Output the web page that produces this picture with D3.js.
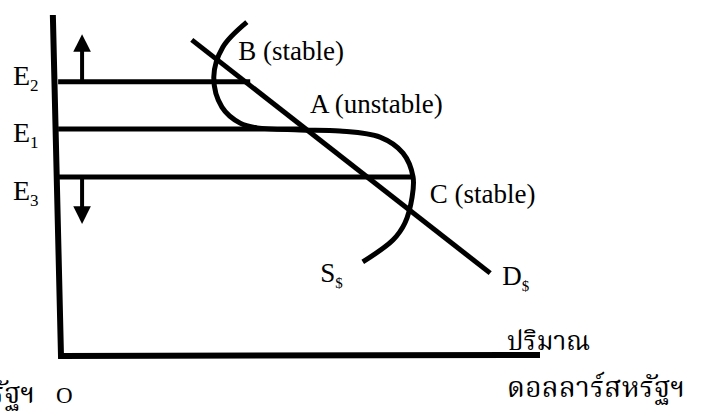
<!DOCTYPE html>
<html>
<head>
<meta charset="utf-8">
<script src="https://cdn.jsdelivr.net/npm/d3@7"></script>
<style>
  body { margin: 0; background: #fff; }
  text { font-family: "Liberation Serif", "DejaVu Serif", serif; fill: #000; }
  text.thai { font-family: "Noto Serif Thai", "Loma", "Noto Sans Thai", serif; }
</style>
</head>
<body>
<div id="container"></div>
<script>
/* CONSTANTS AND GLOBALS */
const width = 704;
const height = 418;

/* DATA (schematic units, 0-10 on both axes) */
// exchange rate levels
const levels = ["E2", "E1", "E3"];
const levelValues = [8.04, 6.66, 5.25];
const levelEnds = [3.95, 5.0, 7.35];

// demand for dollars, straight line
const demandX = [2.73, 8.96];
const demandY = [9.27, 2.43];

// supply of dollars, backward bending curve
const supplyX = [3.88, 3.38, 3.19, 3.36, 3.74, 4.09, 4.99, 5.82, 6.66, 7.14, 7.35, 7.33, 7.18, 6.93, 6.30];
const supplyY = [9.79, 9.06, 8.18, 7.30, 6.83, 6.69, 6.63, 6.60, 6.42, 5.95, 5.25, 4.66, 3.90, 3.40, 2.76];

// arrows: up from E2, down from E3
const arrowX = 0.44;
const arrowFrom = [8.04, 5.25];
const arrowTo = [9.47, 3.84];

// axis frame
const axisX = [-0.17, 0, 10];
const axisY = [10, 0, 0.03];

// point labels
const pointLabels = ["B (stable)", "A (unstable)", "C (stable)"];
const pointX = [3.70, 5.20, 7.70];
const pointY = [8.68, 7.13, 4.49];

/* SCALES */
const xScale = d3.scaleLinear().domain([0, 10]).range([61, 540]);
const yScale = d3.scaleLinear().domain([0, 10]).range([356, 15]);

/* HTML ELEMENTS */
const svg = d3.select("#container")
  .append("svg")
  .attr("width", width)
  .attr("height", height);

svg.append("defs").append("marker")
  .attr("id", "head")
  .attr("viewBox", "0 0 10 10")
  .attr("refX", 1)
  .attr("refY", 5)
  .attr("markerWidth", 4.4)
  .attr("markerHeight", 4.4)
  .attr("markerUnits", "strokeWidth")
  .attr("orient", "auto")
  .append("path")
  .attr("d", "M0,0 L10,5 L0,10 Z")
  .attr("fill", "#000");

const line = d3.line()
  .x(d => xScale(d[0]))
  .y(d => yScale(d[1]));

// axes
svg.append("path")
  .attr("d", line(axisX.map((x, i) => [x, axisY[i]])))
  .attr("fill", "none")
  .attr("stroke", "#000")
  .attr("stroke-width", 6);

// horizontal E lines
svg.selectAll(".level")
  .data(levelValues)
  .join("line")
  .attr("x1", xScale(-0.06))
  .attr("x2", (d, i) => xScale(levelEnds[i]))
  .attr("y1", d => yScale(d))
  .attr("y2", d => yScale(d))
  .attr("stroke", "#000")
  .attr("stroke-width", 5);

// arrows
svg.selectAll(".arrow")
  .data(arrowFrom)
  .join("line")
  .attr("x1", xScale(arrowX))
  .attr("x2", xScale(arrowX))
  .attr("y1", d => yScale(d))
  .attr("y2", (d, i) => {
    const dir = arrowTo[i] > d ? 1 : -1;
    return yScale(arrowTo[i]) + dir * 17;
  })
  .attr("stroke", "#000")
  .attr("stroke-width", 4)
  .attr("marker-end", "url(#head)");

// demand line
svg.append("path")
  .attr("d", line(demandX.map((x, i) => [x, demandY[i]])))
  .attr("fill", "none")
  .attr("stroke", "#000")
  .attr("stroke-width", 5);

// supply curve
svg.append("path")
  .attr("d", line.curve(d3.curveCatmullRom.alpha(0.5))(supplyX.map((x, i) => [x, supplyY[i]])))
  .attr("fill", "none")
  .attr("stroke", "#000")
  .attr("stroke-width", 5);

// E labels
const eLabelY = [85, 142, 200];
levels.forEach((lab, i) => {
  const t = svg.append("text")
    .attr("x", 13)
    .attr("y", eLabelY[i])
    .style("font-size", "28px")
    .text(lab[0]);
  t.append("tspan")
    .attr("dy", 6)
    .style("font-size", "17px")
    .text(lab.slice(1));
});

// point labels
svg.selectAll(".pt")
  .data(pointLabels)
  .join("text")
  .attr("x", (d, i) => xScale(pointX[i]))
  .attr("y", (d, i) => yScale(pointY[i]))
  .style("font-size", "27px")
  .text(d => d);

// curve labels
const curveLabels = [["S", "$", 5.41, 2.17], ["D", "$", 9.21, 2.08]];
curveLabels.forEach(c => {
  const t = svg.append("text")
    .attr("x", xScale(c[2]))
    .attr("y", yScale(c[3]))
    .style("font-size", "27px")
    .text(c[0]);
  t.append("tspan")
    .attr("dy", 6)
    .style("font-size", "15px")
    .text(c[1]);
});

// axis titles
svg.append("text")
  .attr("class", "thai")
  .attr("x", 507).attr("y", 350)
  .style("font-size", "26px")
  .text("ปริมาณ");
svg.append("text")
  .attr("class", "thai")
  .attr("x", 507).attr("y", 397)
  .attr("textLength", 178)
  .style("font-size", "28px")
  .text("ดอลลาร์สหรัฐฯ");
svg.append("text")
  .attr("class", "thai")
  .attr("x", 35).attr("y", 403)
  .attr("text-anchor", "end")
  .style("font-size", "28px")
  .text("ราคาดอลลาร์สหรัฐฯ");
svg.append("text")
  .attr("x", 56).attr("y", 403)
  .style("font-size", "23px")
  .text("O");
</script>
</body>
</html>
